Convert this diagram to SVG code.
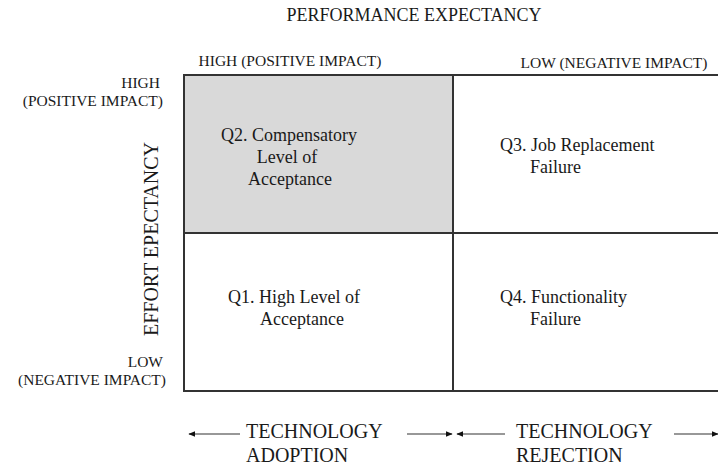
<svg xmlns="http://www.w3.org/2000/svg" width="718" height="468" viewBox="0 0 718 468" font-family="'Liberation Serif', 'Times New Roman', serif">
  <defs>
    <style>
      text { font-family: "Liberation Serif", "Times New Roman", serif; fill: #1a1a1a; }
      .title { font-size: 18px; }
      .axis { font-size: 15.5px; }
      .side { font-size: 15.5px; }
      .quad { font-size: 18px; }
      .dir { font-size: 20px; }
      .grid { stroke: #333; stroke-width: 2; fill: none; }
      .arrow { stroke: #333; stroke-width: 1.2; fill: none; }
    </style>
    <marker id="head" viewBox="0 0 10 10" refX="9" refY="5" markerWidth="7" markerHeight="7" orient="auto-start-reverse" markerUnits="userSpaceOnUse">
      <path d="M0,1 L10,5 L0,9 Z" fill="#111"/>
    </marker>
  </defs>
  <rect width="718" height="468" fill="#fff"/>

  <!-- axis titles -->
  <text class="title" x="414" y="21" text-anchor="middle">PERFORMANCE EXPECTANCY</text>
  <text class="title" transform="translate(158,239) rotate(-90)" text-anchor="middle" style="font-size:20px">EFFORT EPECTANCY</text>

  <!-- column / row scale labels -->
  <text class="axis" x="290" y="66" text-anchor="middle">HIGH (POSITIVE IMPACT)</text>
  <text class="axis" x="614" y="68" text-anchor="middle">LOW (NEGATIVE IMPACT)</text>
  <text class="side" x="160" y="88" text-anchor="end">HIGH</text>
  <text class="side" x="163" y="106" text-anchor="end">(POSITIVE IMPACT)</text>
  <text class="side" x="163" y="367" text-anchor="end">LOW</text>
  <text class="side" x="166" y="385" text-anchor="end">(NEGATIVE IMPACT)</text>

  <!-- quadrants -->
  <g id="q2">
    <rect x="184" y="75" width="269" height="158" fill="#d9d9d9"/>
    <text class="quad" x="289" y="141" text-anchor="middle">Q2. Compensatory</text>
    <text class="quad" x="287" y="163" text-anchor="middle">Level of</text>
    <text class="quad" x="290" y="185" text-anchor="middle">Acceptance</text>
  </g>
  <g id="q3">
    <text class="quad" x="500" y="151">Q3. Job Replacement</text>
    <text class="quad" x="530" y="173">Failure</text>
  </g>
  <g id="q1">
    <text class="quad" x="228" y="303">Q1. High Level of</text>
    <text class="quad" x="260" y="325">Acceptance</text>
  </g>
  <g id="q4">
    <text class="quad" x="500" y="303">Q4. Functionality</text>
    <text class="quad" x="530" y="325">Failure</text>
  </g>

  <!-- grid lines -->
  <g id="grid">
    <path class="grid" d="M718,75 H184 V391 H718"/>
    <path class="grid" d="M453,75 V391"/>
    <path class="grid" d="M184,233 H718"/>
  </g>

  <!-- direction labels -->
  <g id="adoption">
    <text class="dir" x="246" y="438">TECHNOLOGY</text>
    <text class="dir" x="246" y="462">ADOPTION</text>
  </g>
  <g id="rejection">
    <text class="dir" x="516" y="438">TECHNOLOGY</text>
    <text class="dir" x="516" y="462">REJECTION</text>
  </g>

  <!-- connectors -->
  <g id="connectors">
    <line class="arrow" x1="240" y1="434" x2="189" y2="434" marker-end="url(#head)"/>
    <line class="arrow" x1="407" y1="434" x2="452" y2="434" marker-end="url(#head)"/>
    <line class="arrow" x1="505" y1="434" x2="457" y2="434" marker-end="url(#head)"/>
    <line class="arrow" x1="674" y1="434" x2="718" y2="434" marker-end="url(#head)"/>
  </g>
</svg>
